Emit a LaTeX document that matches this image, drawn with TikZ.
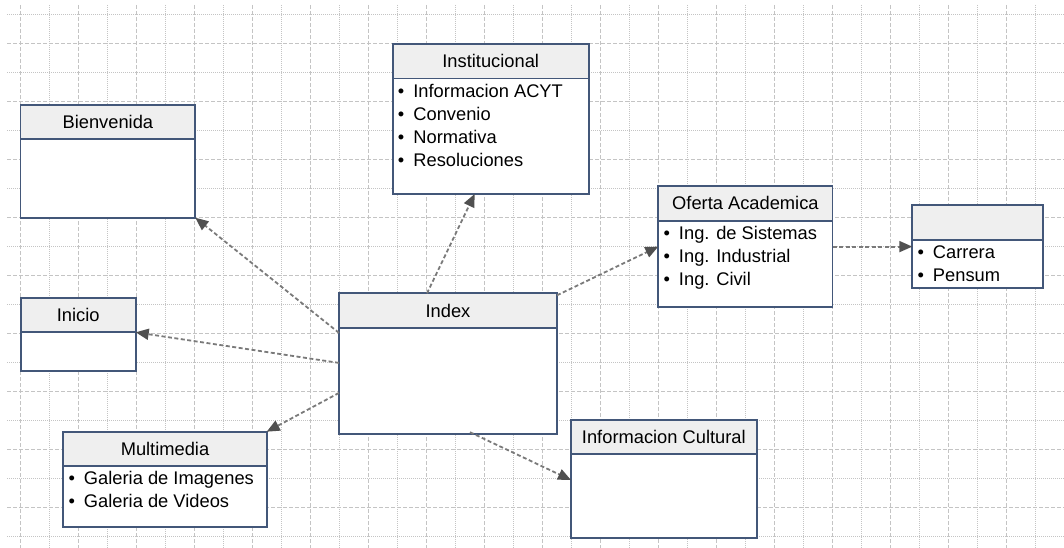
\documentclass[tikz,border=0pt]{standalone}
\usepackage{fontspec}
\setmainfont{Liberation Sans}
\usetikzlibrary{arrows.meta}
\definecolor{boxline}{HTML}{435779}
\definecolor{headfill}{HTML}{EFEFEF}
\definecolor{linkgray}{HTML}{7A7A7A}
\definecolor{tipgray}{HTML}{505050}
\definecolor{gridgray}{HTML}{C4C4C4}

\begin{document}
\begin{tikzpicture}[x=1pt,y=-1pt,
		hdr/.style={draw=boxline, line width=1.8pt, fill=headfill, anchor=north west, inner sep=0pt, outer sep=0pt, minimum height=34.6pt, font=\fontsize{18.3}{22}\selectfont},
		bdy/.style={draw=boxline, line width=1.8pt, fill=white, anchor=north west, inner sep=0pt, outer sep=0pt},
		item/.style={anchor=base west, inner sep=0pt, font=\fontsize{18.3}{22}\selectfont, execute at begin node={\makebox[15.5pt][l]{\textbullet}}},
		link/.style={draw=linkgray, line width=1.8pt, dash pattern=on 4pt off 2.5pt, -{Triangle[length=13pt,width=11pt,color=tipgray]}},
		gridmaj/.style={draw=gridgray, line width=1pt, dash pattern=on 4pt off 2pt},
		gridmin/.style={draw=gridgray, line width=1pt, dash pattern=on 1pt off 1pt}]
		\useasboundingbox (0,0) rectangle (1064,548);
		\fill[white] (0,0) rectangle (1064,548);
		% grid
		\foreach \x in {20,78,...,1064} \draw[gridmaj] (\x,5) -- (\x,548);
		\foreach \x in {49,107,...,1064} \draw[gridmin] (\x,5) -- (\x,548);
		\foreach \y in {43.3,101.3,...,548} \draw[gridmaj] (7,\y) -- (1064,\y);
		\foreach \y in {14.3,72.3,...,548} \draw[gridmin] (7,\y) -- (1064,\y);
		% boxes
		\node[hdr, minimum width=174.8pt] (bienv) at (20.5,104.7) {Bienvenida};
		\node[bdy, minimum width=174.8pt, minimum height=78.4pt] (bienv-b) at (bienv.south west) {};
		\node[hdr, minimum width=196pt] (inst) at (392.7,44) {Institucional};
		\node[bdy, minimum width=196pt, minimum height=115.3pt] (inst-b) at (inst.south west) {};
		\foreach \t [count=\i] in {Informacion ACYT, Convenio, Normativa, Resoluciones}
			\node[item] (inst-\i) at (397.7,75+23*\i) {\t};
		\node[hdr, minimum width=218pt] (idx) at (339,293.3) {Index};
		\node[bdy, minimum width=218pt, minimum height=106.3pt] (idx-b) at (idx.south west) {};
		\node[hdr, minimum width=174.2pt] (ofer) at (658.3,186) {Oferta Academica};
		\node[bdy, minimum width=174.2pt, minimum height=86.3pt] (ofer-b) at (ofer.south west) {};
		\foreach \t [count=\i] in {Ing. de Sistemas, Ing. Industrial, Ing. Civil}
			\node[item] (ofer-\i) at (663.3,216.7+23*\i) {\t};
		\node[hdr, minimum width=130.4pt] (carr) at (912.3,205) {};
		\node[bdy, minimum width=130.4pt, minimum height=48.7pt] (carr-b) at (carr.south west) {};
		\foreach \t [count=\i] in {Carrera, Pensum}
			\node[item] (carr-\i) at (917.3,235.5+23*\i) {\t};
		\node[hdr, minimum width=115pt] (inicio) at (20.7,297.7) {Inicio};
		\node[bdy, minimum width=115pt, minimum height=39pt] (inicio-b) at (inicio.south west) {};
		\node[hdr, minimum width=203.4pt, minimum height=34pt] (multi) at (63.3,431.7) {Multimedia};
		\node[bdy, minimum width=203.4pt, minimum height=61pt] (multi-b) at (multi.south west) {};
		\foreach \t [count=\i] in {Galeria de Imagenes, Galeria de Videos}
			\node[item] (multi-\i) at (68.3,461.7+23*\i) {\t};
		\node[hdr, minimum width=185.7pt, minimum height=34pt] (cult) at (571,420) {Informacion Cultural};
		\node[bdy, minimum width=185.7pt, minimum height=83.7pt] (cult-b) at (cult.south west) {};
		% links
		\draw[link] ([yshift=-5pt]idx-b.north west) -- (bienv-b.south east);
		\draw[link] ([yshift=-35pt]idx-b.north west) -- (inicio.south east);
		\draw[link] ([yshift=-65pt]idx-b.north west) -- (multi.north east);
		\draw[link] ([xshift=88pt]idx.north west) -- ([xshift=82pt]inst-b.south west);
		\draw[link] ([yshift=-2pt]idx.north east) -- ([yshift=-26pt]ofer-b.north west);
		\draw[link] ([xshift=131pt,yshift=2pt]idx-b.south west) -- ([yshift=-26pt]cult-b.north west);
		\draw[link] ([yshift=-26pt]ofer-b.north east) -- ([yshift=-7pt]carr-b.north west);
	\end{tikzpicture}
\end{document}
